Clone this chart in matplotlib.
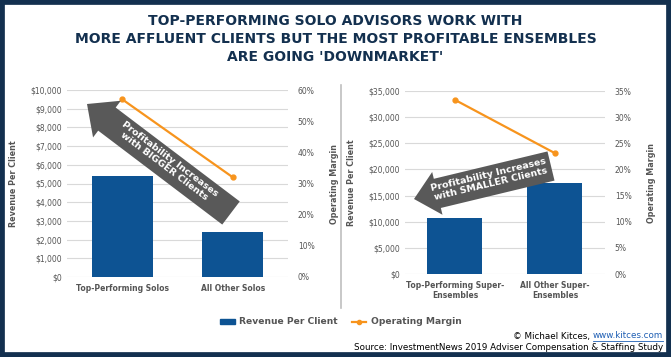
import numpy as np
import matplotlib.pyplot as plt
from matplotlib.patches import Rectangle, FancyArrow
from matplotlib.lines import Line2D
from matplotlib.ticker import FuncFormatter

# data
solo_labels = ['Top-Performing Solos', 'All Other Solos']
solo_revenue = [5400, 2400]
solo_margin = [57, 32]
ens_labels = ['Top-Performing Super-\nEnsembles', 'All Other Super-\nEnsembles']
ens_revenue = [10700, 17400]
ens_margin = [33.3, 23.1]

navy = '#13304f'
blue = '#0d5393'
orange = '#f7941d'
grey_txt = '#555555'
arrow_col = '#595959'

plt.rcParams['font.family'] = ['DejaVu Sans']

fig = plt.figure(figsize=(6.71, 3.57), dpi=100)
fig.patch.set_facecolor('white')
fig.patches.append(Rectangle((0, 0), 1, 1, transform=fig.transFigure, fill=False,
                             edgecolor=navy, linewidth=7, zorder=10))

title_lines = ['TOP-PERFORMING SOLO ADVISORS WORK WITH',
               'MORE AFFLUENT CLIENTS BUT THE MOST PROFITABLE ENSEMBLES',
               "ARE GOING 'DOWNMARKET'"]
for i, line in enumerate(title_lines):
    fig.text(0.5, 1 - (21 + 18 * i)/357, line, ha='center', va='center',
             fontsize=10, fontweight='bold', color=navy)

fs = 5.5


def panel(rect, labels, revenue, margin, rmax, rstep, mmax, mstep):
    ax = fig.add_axes(rect)
    x = np.arange(len(labels))
    ax.bar(x, revenue, width=0.55, color=blue, zorder=2)
    ax.set_xlim(-0.5, 1.5)
    ax.set_ylim(0, rmax)
    ax.set_yticks(np.arange(0, rmax + 1, rstep))
    ax.yaxis.set_major_formatter(FuncFormatter(lambda v, p: '${:,.0f}'.format(v)))
    ax.grid(axis='y', color='#d9d9d9', linewidth=0.8, zorder=0)
    ax.set_xticks(x)
    ax.set_xticklabels(labels, fontsize=5.7, fontweight='bold', color=grey_txt, linespacing=1.15)
    ax.set_ylabel('Revenue Per Client', fontsize=5.8, fontweight='bold', color=grey_txt, labelpad=9)
    ax.tick_params(axis='both', length=0, labelsize=fs, labelcolor=grey_txt)
    ax.tick_params(axis='x', pad=5)
    for s in ax.spines.values():
        s.set_visible(False)
    ax2 = ax.twinx()
    ax2.plot(x, margin, color=orange, linewidth=1.6, marker='o', markersize=3.5)
    ax2.set_ylim(0, mmax)
    ax2.set_yticks(np.arange(0, mmax + 1, mstep))
    ax2.yaxis.set_major_formatter(FuncFormatter(lambda v, p: '{:.0f}%'.format(v)))
    ax2.set_ylabel('Operating Margin', fontsize=5.8, fontweight='bold', color=grey_txt, labelpad=11)
    ax2.tick_params(axis='y', length=0, labelsize=fs, labelcolor=grey_txt, pad=7)
    for s in ax2.spines.values():
        s.set_visible(False)
    return ax, ax2


panel([67/671, 1 - 277/357, 221/671, 187/357], solo_labels, solo_revenue, solo_margin,
      10000, 1000, 60, 10)
panel([405/671, 1 - 274/357, 200/671, 183/357], ens_labels, ens_revenue, ens_margin,
      35000, 5000, 35, 5)

# overlay in pixel units for the separator and arrows
ov = fig.add_axes([0, 0, 1, 1], zorder=5)
ov.set_xlim(0, 671)
ov.set_ylim(357, 0)
ov.axis('off')
ov.plot([341, 341], [85, 308], color='#bfbfbf', linewidth=1.2)

ov.add_patch(FancyArrow(231, 213, -144, -109, width=29, head_width=46, head_length=25,
                        length_includes_head=True, color=arrow_col, linewidth=0))
ov.text(167, 163, 'Profitability Increases\nwith BIGGER Clients', rotation=-37.1,
        rotation_mode='anchor', ha='center', va='center', fontsize=6.8, fontweight='bold',
        color='white', linespacing=1.05)
ov.add_patch(FancyArrow(551, 166, -137, 33, width=30, head_width=44, head_length=24,
                        length_includes_head=True, color=arrow_col, linewidth=0))
ov.text(490, 179, 'Profitability Increases\nwith SMALLER Clients', rotation=13.5,
        rotation_mode='anchor', ha='center', va='center', fontsize=6.8, fontweight='bold',
        color='white', linespacing=1.05)

# legend
handles = [Rectangle((0, 0), 1, 1, color=blue, label='Revenue Per Client'),
           Line2D([0], [0], color=orange, marker='o', markersize=3, linewidth=1.6, label='Operating Margin')]
fig.legend(handles=handles, loc='center', bbox_to_anchor=(341/671, 1 - 322/357), ncol=2, frameon=False,
           prop={'size': 6.6, 'weight': 'bold'}, labelcolor=grey_txt,
           handlelength=1.6, handleheight=0.5, columnspacing=1.5, handletextpad=0.5)

# credits: url right-aligned, prefix placed from its measured extent
cfs = 6.35
url = fig.text(663/671, 1 - 336/357, 'www.kitces.com', ha='right', va='center', fontsize=cfs,
               color='#1f5fb4')
renderer = fig.canvas.get_renderer()
bb = url.get_window_extent(renderer)
fig.text(bb.x0 / fig.bbox.width, 1 - 336/357, '\u00a9 Michael Kitces, ', ha='right', va='center',
         fontsize=cfs, color='black')
ov.plot([bb.x0, bb.x1], [357 - bb.y0 + 0.5] * 2, color='#1f5fb4', linewidth=0.6)
fig.text(663/671, 1 - 347/357, 'Source: InvestmentNews 2019 Adviser Compensation & Staffing Study',
         ha='right', va='center', fontsize=cfs, color='black')

fig.savefig('out.png', dpi=100)
